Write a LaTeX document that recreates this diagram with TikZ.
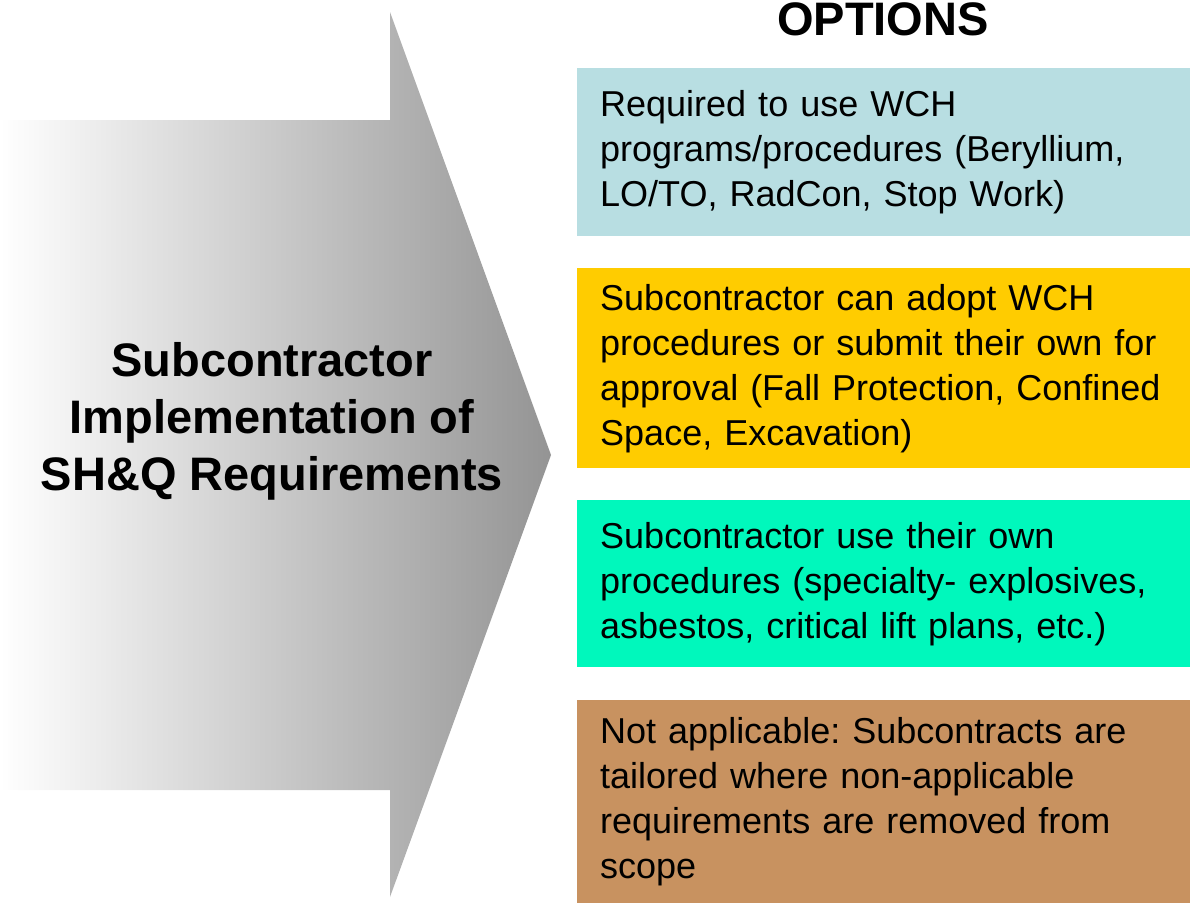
\documentclass[tikz,border=0pt]{standalone}
\usepackage{fontspec}
\setmainfont{Liberation Sans}
\frenchspacing
\usetikzlibrary{positioning}
\definecolor{optblue}{RGB}{184,222,226}
\definecolor{optyellow}{RGB}{255,204,0}
\definecolor{optgreen}{RGB}{0,248,188}
\definecolor{optbrown}{RGB}{200,146,96}
\tikzstyle{option}=[anchor=north west,inner xsep=23pt,inner ysep=0pt,text width=567pt,align=left,font=\fontsize{36}{45}\selectfont]
\tikzstyle{heading}=[inner sep=0pt,font=\bfseries\fontsize{47}{50}\selectfont]
\tikzstyle{arrowtext}=[inner sep=0pt,align=center,font=\bfseries\fontsize{47}{57}\selectfont]

\begin{document}
\begin{tikzpicture}[x=1pt,y=-1pt]
    % Keep the page as large as the picture
    \useasboundingbox (0,0) rectangle (1193,903);

    % First we draw the big grey arrow
    \shade[left color=white,right color=black!42] (0,120) -- (390,120) -- (390,12) -- (551,455) -- (390,897) -- (390,790) -- (0,790) -- cycle;
    \node[arrowtext] (sub) at (272,421) {Subcontractor\\Implementation of\\SH\&Q Requirements};

    % Then the heading and the option boxes
    \node[heading] (options) at (883,19) {OPTIONS};
    \foreach \pos/\name/\col/\boxht/\txt in {{(577,68)/req/optblue/168pt/{Required to use WCH\\programs/procedures (Beryllium,\\LO/TO, RadCon, Stop Work)}},
        {(577,268)/adopt/optyellow/200pt/{Subcontractor can adopt WCH\\procedures or submit their own for\\approval (Fall Protection, Confined\\Space, Excavation)}},
        {(577,500)/own/optgreen/167pt/{Subcontractor use their own\\procedures (specialty- explosives,\\asbestos, critical lift plans, etc.)}},
        {(577,700)/notapp/optbrown/203pt/{Not applicable: Subcontracts are\\tailored where non-applicable\\requirements are removed from\\scope}}}
        \node[option,fill=\col,minimum height=\boxht] (\name) at \pos {\txt};

\end{tikzpicture}
\end{document}
